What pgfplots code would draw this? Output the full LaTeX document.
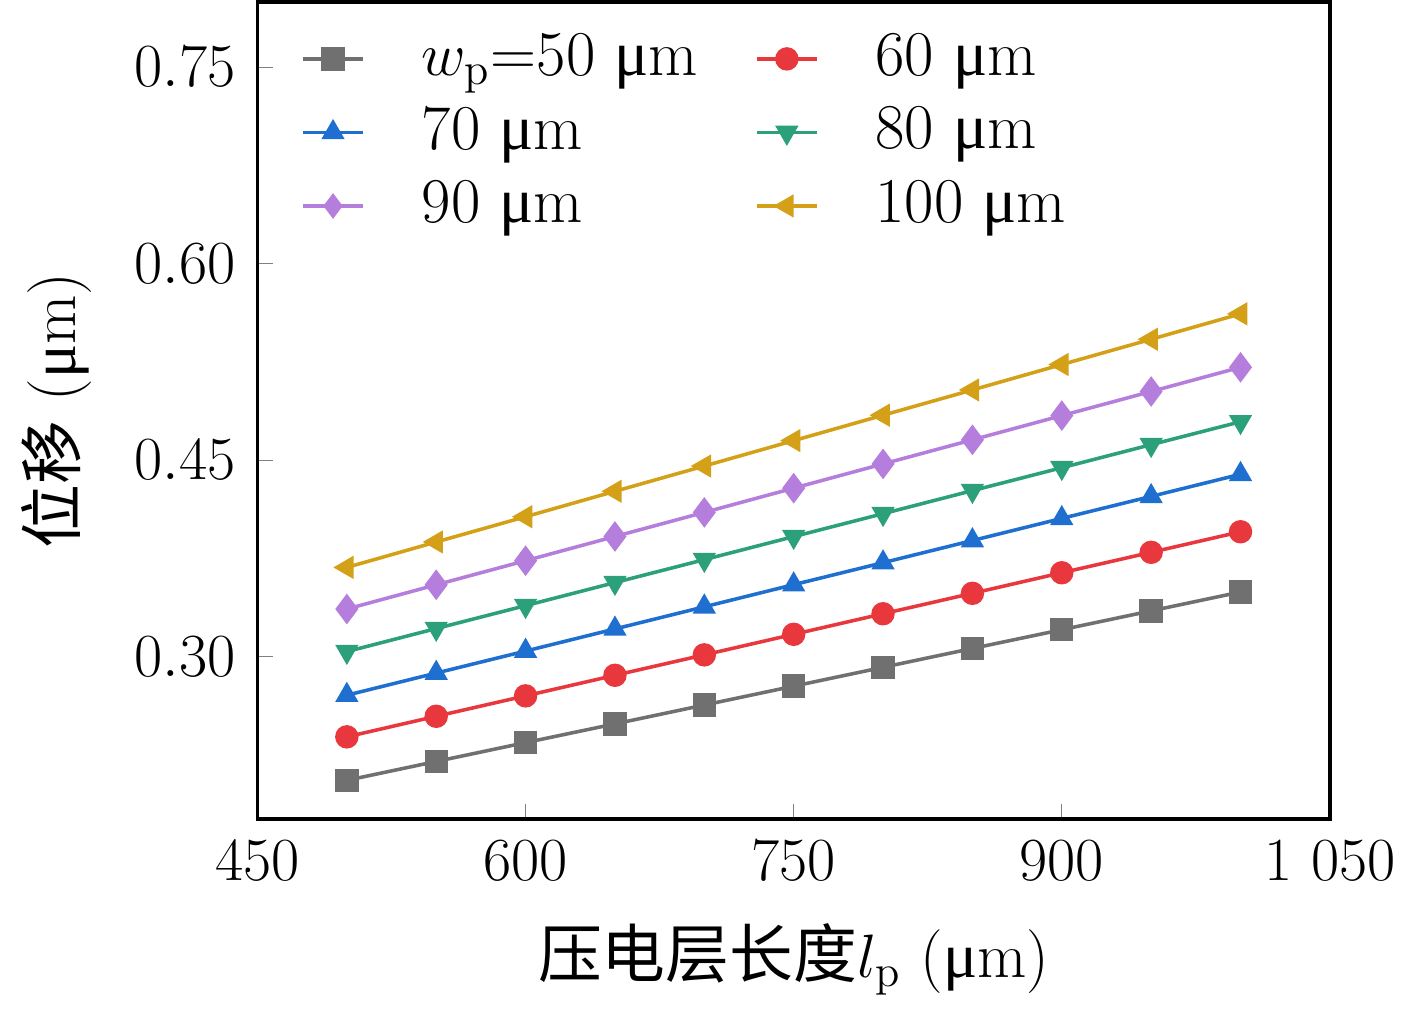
\documentclass[border=0pt]{standalone}
\usepackage{fontspec}
\newfontfamily\cjk{Noto Sans CJK SC}
\newfontfamily\mufont{Liberation Serif}
\newcommand{\um}{{\mufont μ}m}
\usepackage{pgfplots}
\pgfplotsset{compat=1.18}
\definecolor{c1}{HTML}{707070}
\definecolor{c2}{HTML}{E8383D}
\definecolor{c3}{HTML}{1F6FD1}
\definecolor{c4}{HTML}{2CA07A}
\definecolor{c5}{HTML}{B57EDC}
\definecolor{c6}{HTML}{D4A017}
\begin{document}
\fontsize{18}{21}\selectfont
\begin{tikzpicture}
\begin{axis}[
 width=10.63cm, height=8.1cm, scale only axis,
 xmin=450, xmax=1050, ymin=0.176, ymax=0.80,
 xtick={450,600,750,900,1050}, ytick={0.30,0.45,0.60,0.75},
 tick align=inside, axis line style={line width=1pt}, major tick length=0.15cm,
 xtick pos=bottom, ytick pos=left,
 x tick label style={/pgf/number format/1000 sep={\ }},
 y tick label style={/pgf/number format/.cd, fixed, fixed zerofill, precision=2},
 tick label style={font=\fontsize{18}{21}\selectfont},
 label style={font=\fontsize{18}{21}\selectfont},
 xlabel={{\cjk 压电层长度}$l_\mathrm{p}$ (\um)},
 ylabel={{\cjk 位移} (\um)},
 legend style={draw=none, fill=none, at={(0.03,0.98)}, anchor=north west, font=\fontsize{18}{21}\selectfont, column sep=14pt, row sep=2pt},
 legend columns=2,
 legend cell align=left,
 legend image post style={mark size=2.8pt},
 every axis plot/.append style={line width=1pt, mark size=2.8pt},
]
\addplot[c1, mark=square*] coordinates {(500,0.2055)(550,0.2199)(600,0.2343)(650,0.2486)(700,0.2630)(750,0.2774)(800,0.2918)(850,0.3062)(900,0.3205)(950,0.3349)(1000,0.3493)};
\addlegendentry{$w_\mathrm{p}$=50 \um}
\addplot[c2, mark=*] coordinates {(500,0.2387)(550,0.2544)(600,0.2700)(650,0.2857)(700,0.3013)(750,0.3170)(800,0.3327)(850,0.3483)(900,0.3640)(950,0.3796)(1000,0.3953)};
\addlegendentry{60 \um}
\addplot[c3, mark=triangle*] coordinates {(500,0.2705)(550,0.2874)(600,0.3042)(650,0.3211)(700,0.3380)(750,0.3549)(800,0.3717)(850,0.3886)(900,0.4055)(950,0.4223)(1000,0.4392)};
\addlegendentry{70 \um}
\addplot[c4, mark=triangle*, mark options={rotate=180}] coordinates {(500,0.3038)(550,0.3214)(600,0.3389)(650,0.3565)(700,0.3740)(750,0.3916)(800,0.4091)(850,0.4267)(900,0.4442)(950,0.4618)(1000,0.4793)};
\addlegendentry{80 \um}
\addplot[c5, mark=diamond*, mark size=3.5pt] coordinates {(500,0.3363)(550,0.3548)(600,0.3732)(650,0.3917)(700,0.4101)(750,0.4286)(800,0.4471)(850,0.4655)(900,0.4840)(950,0.5024)(1000,0.5209)};
\addlegendentry{90 \um}
\addplot[c6, mark=triangle*, mark options={rotate=90}] coordinates {(500,0.3681)(550,0.3875)(600,0.4068)(650,0.4262)(700,0.4455)(750,0.4649)(800,0.4843)(850,0.5036)(900,0.5230)(950,0.5423)(1000,0.5617)};
\addlegendentry{100 \um}
\end{axis}
\end{tikzpicture}
\end{document}
